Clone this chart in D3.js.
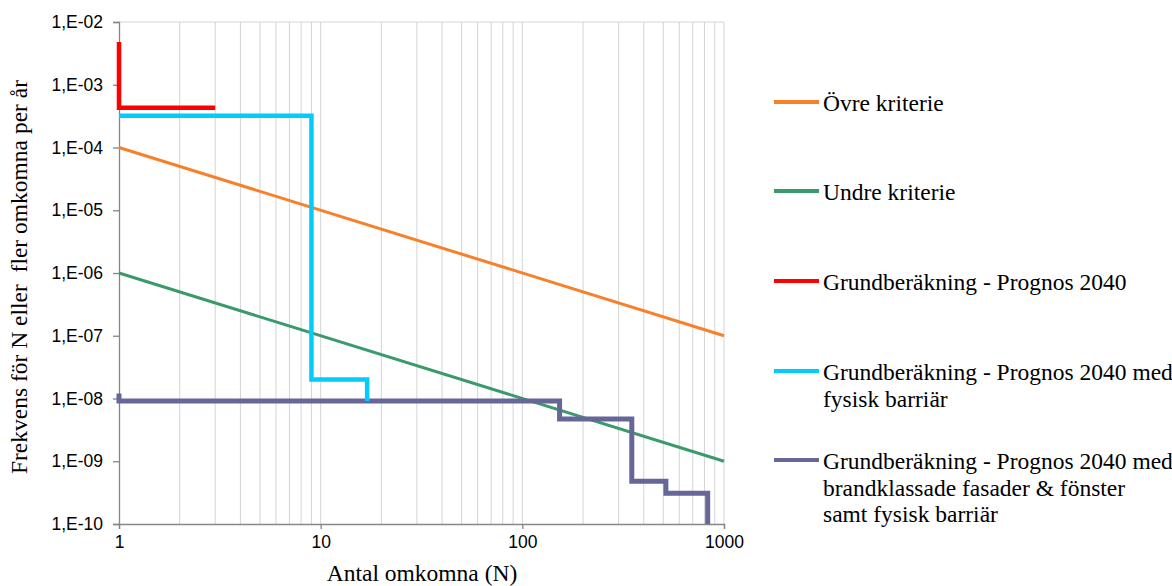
<!DOCTYPE html>
<html><head><meta charset="utf-8">
<script src="https://cdn.jsdelivr.net/npm/d3@7"></script>
<style>body{margin:0;background:#fff}svg{display:block}</style>
</head><body>
<svg id="c" width="1172" height="586"></svg>
<script>
const yTicks = [1e-2,1e-3,1e-4,1e-5,1e-6,1e-7,1e-8,1e-9,1e-10];
const yTickLabels = ["1,E-02","1,E-03","1,E-04","1,E-05","1,E-06","1,E-07","1,E-08","1,E-09","1,E-10"];
const xTicks = [1,10,100,1000];
const xTickLabels = ["1","10","100","1000"];

const ovreN = [1,1000], ovreF = [1e-4,1e-7];
const undreN = [1,1000], undreF = [1e-6,1e-9];
const grundN = [1,1,3], grundF = [4.8e-3,4.3e-4,4.3e-4];
const barriarN = [1,9,9,17,17], barriarF = [3.2e-4,3.2e-4,2e-8,2e-8,9.1e-9];
const brandN = [1,1,153,153,349,349,515,515,830,830];
const brandF = [1.2e-8,9.1e-9,9.1e-9,4.7e-9,4.7e-9,4.8e-10,4.8e-10,3.1e-10,3.1e-10,1e-10];

const seriesNames = ["Övre kriterie","Undre kriterie","Grundberäkning - Prognos 2040",
  "Grundberäkning - Prognos 2040 med\nfysisk barriär",
  "Grundberäkning - Prognos 2040 med\nbrandklassade fasader & fönster\nsamt fysisk barriär"];

const series = [
  {N:ovreN,F:ovreF,color:"#F7802A",w:3},
  {N:undreN,F:undreF,color:"#3A9A6A",w:3},
  {N:grundN,F:grundF,color:"#FF0000",w:4.5},
  {N:barriarN,F:barriarF,color:"#00CCFF",w:4.5},
  {N:brandN,F:brandF,color:"#666699",w:5}
];
const drawOrder = [0,1,4,3,2];

const svg = d3.select("#c");
const L=119,R=724,T=22,B=524;
const x = d3.scaleLog().domain([1,1000]).range([L,R]);
const y = d3.scaleLog().domain([1e-10,1e-2]).range([B,T]);

// vertical gridlines
const grid=[];
for(let d=1; d<1000; d*=10) for(let k=1;k<=9;k++){ if(d*k>1) grid.push(d*k);}
grid.push(1000);
svg.append("g").selectAll("line").data(grid).join("line")
  .attr("x1",d=>x(d)).attr("x2",d=>x(d)).attr("y1",T).attr("y2",B)
  .attr("stroke","#d4d4d4").attr("stroke-width",1);
svg.append("line").attr("x1",L).attr("x2",R).attr("y1",T).attr("y2",T).attr("stroke","#d4d4d4");

// axes
const yAxis = d3.axisLeft(y).tickValues(yTicks).tickFormat((d,i)=>yTickLabels[i]).tickSize(6).tickPadding(10);
const gy = svg.append("g").attr("transform",`translate(${L},0)`).call(yAxis);
const xAxis = d3.axisBottom(x).tickValues(xTicks).tickFormat((d,i)=>xTickLabels[i]).tickSize(5).tickPadding(7);
const gx = svg.append("g").attr("transform",`translate(0,${B})`).call(xAxis);
[gx,gy].forEach(g=>{
  g.attr("font-size",17.5).attr("font-family","Liberation Sans, Arial, sans-serif");
  g.select(".domain").attr("stroke","#868686").attr("stroke-width",1.3);
  g.selectAll(".tick line").attr("stroke","#868686").attr("stroke-width",1.3);
  g.selectAll("text").attr("fill","#000");
});

// lines
const line = d3.line().x(d=>x(d[0])).y(d=>y(d[1]));
drawOrder.forEach(i=>{
  const s=series[i];
  svg.append("path").datum(s.N.map((n,j)=>[n,s.F[j]]))
    .attr("d",line).attr("fill","none").attr("stroke",s.color).attr("stroke-width",s.w)
    .attr("stroke-linejoin","miter").attr("stroke-linecap","butt");
});

// titles
const serif = "Liberation Serif, Times New Roman, serif";
svg.append("text").attr("x",422).attr("y",581).attr("text-anchor","middle")
  .attr("font-family",serif).attr("font-size",23.5).text("Antal omkomna (N)");
svg.append("text").attr("transform","translate(27,277) rotate(-90)").attr("text-anchor","middle")
  .attr("font-family",serif).attr("font-size",23.5)
  .style("white-space","pre").text("Frekvens för N eller  fler omkomna per år");

// legend
const legY=[102,191,281,371,460];
const lg = svg.append("g");
seriesNames.forEach((name,i)=>{
  lg.append("line").attr("x1",774).attr("x2",819).attr("y1",legY[i]).attr("y2",legY[i])
    .attr("stroke",series[i].color).attr("stroke-width",4);
  const t = lg.append("text").attr("x",823).attr("y",legY[i]+9)
    .attr("font-family",serif).attr("font-size",23.5);
  name.split("\n").forEach((ln,k)=>{
    t.append("tspan").attr("x",823).attr("dy",k?26.5:0).text(ln);
  });
});
</script>
</body></html>
